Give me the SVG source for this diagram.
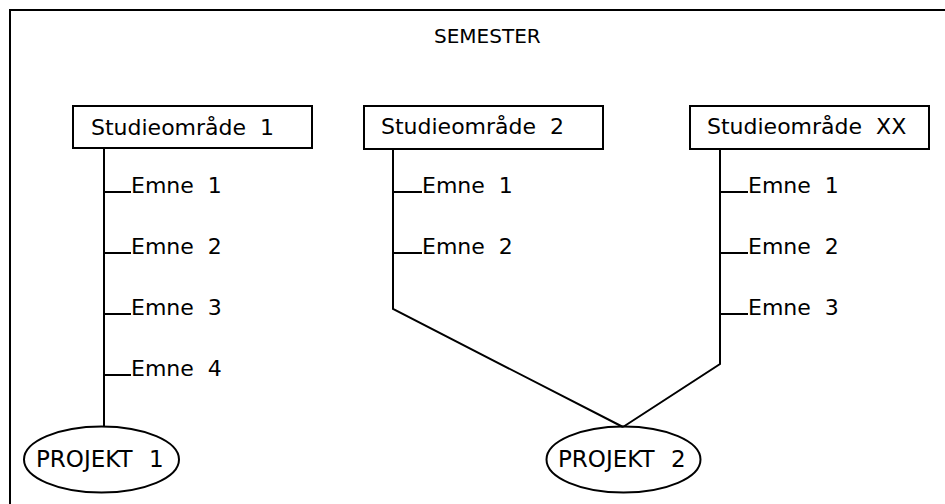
<svg xmlns="http://www.w3.org/2000/svg" width="945" height="504" viewBox="0 0 945 504">
  <style>
    .ln { fill: none; stroke: #000; stroke-width: 2; }
    .box { fill: #fff; stroke: #000; stroke-width: 2; }
    .t { font-family: "DejaVu Sans", "Liberation Sans", sans-serif; font-size: 22px; fill: #000; word-spacing: 7px; }
    .title { font-size: 20px; }
    .proj { font-size: 23px; word-spacing: 9px; }
  </style>
  <rect width="945" height="504" fill="#fff"/>

  <!-- outer frame (top and left edges) -->
  <path class="ln" d="M10 504 V10 H945"/>
  <text class="t title" x="434" y="43">SEMESTER</text>

  <!-- connectors: trunks, topic ticks and project links -->
  <g id="connectors">
    <path class="ln" d="M104 148 V427"/>
    <path class="ln" d="M104 192 H131 M104 253 H131 M104 314 H131 M104 375 H131"/>
    <path class="ln" d="M393 149 V309 L623 427"/>
    <path class="ln" d="M393 192 H422 M393 253 H422"/>
    <path class="ln" d="M720 149 V364 L623 427"/>
    <path class="ln" d="M720 192 H748 M720 253 H748 M720 314 H748"/>
  </g>

  <g id="area1">
    <rect class="box" x="73" y="106" width="239" height="42"/>
    <text class="t" x="91" y="135">Studieområde 1</text>
  </g>
  <g id="area2">
    <rect class="box" x="364" y="106" width="239" height="43"/>
    <text class="t" x="381" y="134">Studieområde 2</text>
  </g>
  <g id="areaXX">
    <rect class="box" x="690" y="106" width="239" height="43"/>
    <text class="t" x="707" y="134">Studieområde XX</text>
  </g>

  <g id="topics1">
    <text class="t" x="131" y="193">Emne 1</text>
    <text class="t" x="131" y="254">Emne 2</text>
    <text class="t" x="131" y="315">Emne 3</text>
    <text class="t" x="131" y="376">Emne 4</text>
  </g>
  <g id="topics2">
    <text class="t" x="422" y="193">Emne 1</text>
    <text class="t" x="422" y="254">Emne 2</text>
  </g>
  <g id="topicsXX">
    <text class="t" x="748" y="193">Emne 1</text>
    <text class="t" x="748" y="254">Emne 2</text>
    <text class="t" x="748" y="315">Emne 3</text>
  </g>

  <g id="project1">
    <ellipse class="ln" cx="101.5" cy="459.5" rx="77.5" ry="33"/>
    <text class="t proj" x="36" y="467">PROJEKT 1</text>
  </g>
  <g id="project2">
    <ellipse class="ln" cx="623.5" cy="459.5" rx="77" ry="33"/>
    <text class="t proj" x="558" y="467">PROJEKT 2</text>
  </g>
</svg>
